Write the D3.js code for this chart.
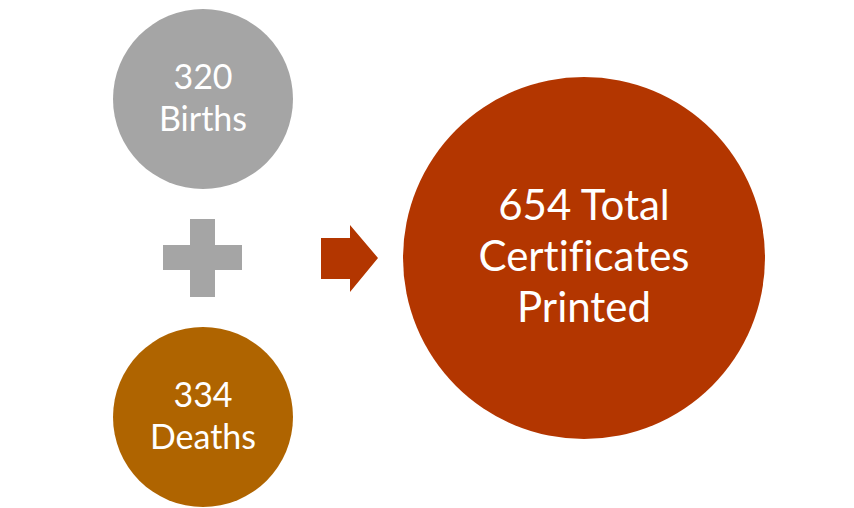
<!DOCTYPE html>
<html>
<head>
<meta charset="utf-8">
<script src="https://cdn.jsdelivr.net/npm/d3@7"></script>
<style>
  html, body { margin: 0; padding: 0; background: #fff; }
  svg { display: block; font-family: Lato, "Open Sans", sans-serif; font-variant-ligatures: none; }
</style>
</head>
<body>
<div id="chart"></div>
<script>
// data
const categories = ['Births', 'Deaths'];
const values = [320, 334];
const colors = ['#A5A5A5', '#AF6400'];
const totalLabel = ['Total', 'Certificates', 'Printed'];
const totalColor = '#B33600';

const total = d3.sum(values);

const width = 854;
const height = 508;

const svg = d3.select('#chart')
	.append('svg')
	.attr('width', width)
	.attr('height', height);

// small circles stacked in a column on the left
const y = d3.scalePoint()
	.domain(categories)
	.range([99, 417]);

const xLeft = 203;
const rSmall = 90;

const small = svg.append('g')
	.selectAll('g')
	.data(categories)
	.enter()
	.append('g')
	.attr('transform', d => `translate(${xLeft},${y(d)})`);

small.append('circle')
	.attr('r', rSmall)
	.attr('fill', (d, i) => colors[i]);

small.append('text')
	.attr('text-anchor', 'middle')
	.attr('fill', '#fff')
	.style('font-size', '34px')
	.selectAll('tspan')
	.data((d, i) => [values[i], d])
	.enter()
	.append('tspan')
	.attr('x', 0)
	.attr('y', (d, i) => i == 0 ? -10 : 32)
	.text(d => d);

// plus sign between them
const midY = (y(categories[0]) + y(categories[1])) / 2;
const plus = svg.append('g')
	.attr('transform', `translate(${xLeft},${midY})`)
	.attr('fill', '#A5A5A5');

plus.append('rect').attr('x', -40).attr('y', -13).attr('width', 79).attr('height', 25);
plus.append('rect').attr('x', -13).attr('y', -39).attr('width', 25).attr('height', 78);

// arrow
svg.append('path')
	.attr('fill', totalColor)
	.attr('d', `M321,${midY - 20} H350 V${midY - 33} L378,${midY} L350,${midY + 34} V${midY + 21} H321 Z`);

// big total circle
const big = svg.append('g')
	.attr('transform', `translate(584,${midY})`);

big.append('circle')
	.attr('r', 181)
	.attr('fill', totalColor);

big.append('text')
	.attr('text-anchor', 'middle')
	.attr('fill', '#fff')
	.style('font-size', '42px')
	.selectAll('tspan')
	.data([total + ' ' + totalLabel[0], totalLabel[1], totalLabel[2]])
	.enter()
	.append('tspan')
	.attr('x', 0)
	.attr('y', (d, i) => -38 + i * 51)
	.text(d => d);
</script>
</body>
</html>
